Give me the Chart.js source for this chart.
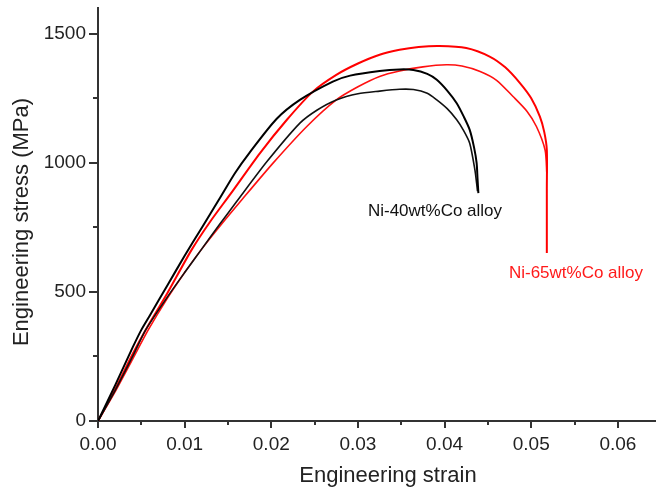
<!DOCTYPE html>
<html>
<head>
<meta charset="utf-8">
<script src="https://cdn.jsdelivr.net/npm/chart.js@4.4.1/dist/chart.umd.min.js"></script>
<style>
  html, body { margin: 0; padding: 0; background: #fff; }
  #wrap { width: 656px; height: 489px; }
</style>
</head>
<body>
<div id="wrap"><canvas id="grafico" width="656" height="489"></canvas></div>
<script>
// Ni-40wt%Co alloy, two samples (strain, MPa)
const strainB1 = [0, 0.002, 0.004, 0.005, 0.006, 0.008, 0.010, 0.012, 0.014, 0.0158, 0.0175, 0.0206, 0.0233, 0.0271, 0.0291, 0.0325, 0.0348, 0.0364, 0.038, 0.0391, 0.0403, 0.0414, 0.0422, 0.0429, 0.0434, 0.0437, 0.0438, 0.0439];
const stressB1 = [0, 140, 285, 353, 410, 525, 640, 750, 860, 960, 1040, 1170, 1244, 1315, 1338, 1356, 1362, 1360, 1345, 1322, 1280, 1231, 1180, 1128, 1060, 999, 940, 883];

const strainB2 = [0, 0.002, 0.004, 0.0055, 0.008, 0.010, 0.0119, 0.014, 0.016, 0.0195, 0.0233, 0.0253, 0.0275, 0.030, 0.0325, 0.0348, 0.0364, 0.038, 0.0391, 0.0403, 0.0414, 0.0422, 0.0429, 0.0435, 0.0437, 0.0438];
const stressB2 = [0, 120, 250, 353, 480, 575, 663, 760, 850, 1005, 1154, 1205, 1244, 1268, 1278, 1285, 1284, 1270, 1244, 1210, 1167, 1125, 1076, 973, 920, 890];

// Ni-65wt%Co alloy, two samples
const strainR1 = [0, 0.002, 0.004, 0.0055, 0.008, 0.0108, 0.013, 0.0153, 0.0187, 0.0218, 0.0248, 0.0275, 0.030, 0.0325, 0.0348, 0.037, 0.0394, 0.0425, 0.0452, 0.047, 0.0487, 0.050, 0.051, 0.0515, 0.0518, 0.0518, 0.0518, 0.0518];
const stressR1 = [0, 125, 260, 353, 495, 663, 775, 880, 1038, 1167, 1276, 1341, 1385, 1419, 1438, 1449, 1453, 1445, 1412, 1370, 1309, 1250, 1179, 1120, 1050, 900, 750, 651];

const strainR2 = [0, 0.002, 0.004, 0.0058, 0.008, 0.010, 0.0119, 0.0142, 0.0166, 0.0202, 0.0241, 0.0275, 0.030, 0.0325, 0.0348, 0.0375, 0.0402, 0.042, 0.0441, 0.046, 0.0479, 0.0495, 0.0506, 0.0516, 0.0518];
const stressR2 = [0, 115, 240, 353, 475, 575, 663, 760, 857, 999, 1141, 1244, 1295, 1335, 1356, 1372, 1380, 1375, 1354, 1320, 1257, 1200, 1141, 1050, 960];

const xTicks = [0, 0.01, 0.02, 0.03, 0.04, 0.05, 0.06];
const xMinor = [0.005, 0.015, 0.025, 0.035, 0.045, 0.055];
const yTicks = [0, 500, 1000, 1500];
const yMinor = [250, 750, 1250];

const fonte = "'Liberation Sans', Arial, sans-serif";

function pontos(xs, ys) {
  return xs.map((x, i) => ({ x: x, y: ys[i] }));
}

// marcas dos eixos, títulos e rótulos das curvas
const extras = {
  id: "extras",
  afterDraw(chart) {
    const ctx = chart.ctx;
    const sx = chart.scales.x;
    const sy = chart.scales.y;
    const area = chart.chartArea;
    ctx.save();
    ctx.strokeStyle = "#333";
    ctx.lineWidth = 2;
    ctx.beginPath();
    xTicks.forEach(v => { const p = Math.round(sx.getPixelForValue(v)); ctx.moveTo(p, area.bottom); ctx.lineTo(p, area.bottom + 7); });
    xMinor.forEach(v => { const p = Math.round(sx.getPixelForValue(v)); ctx.moveTo(p, area.bottom); ctx.lineTo(p, area.bottom + 4); });
    yTicks.forEach(v => { const p = Math.round(sy.getPixelForValue(v)); ctx.moveTo(area.left, p); ctx.lineTo(area.left - 9, p); });
    yMinor.forEach(v => { const p = Math.round(sy.getPixelForValue(v)); ctx.moveTo(area.left, p); ctx.lineTo(area.left - 5, p); });
    ctx.stroke();

    ctx.fillStyle = "#222";
    ctx.font = "22px " + fonte;
    ctx.textAlign = "center";
    ctx.textBaseline = "middle";
    ctx.fillText("Engineering strain", 388, 476);
    ctx.save();
    ctx.translate(22, 222);
    ctx.rotate(-Math.PI / 2);
    ctx.fillText("Engineering stress (MPa)", 0, 0);
    ctx.restore();

    ctx.font = "17px " + fonte;
    ctx.fillStyle = "#111";
    ctx.fillText("Ni-40wt%Co alloy", 435, 211);
    ctx.fillStyle = "#ff1a1a";
    ctx.fillText("Ni-65wt%Co alloy", 576, 273);
    ctx.restore();
  }
};

const ctx = document.getElementById("grafico").getContext("2d");
new Chart(ctx, {
  type: "scatter",
  data: {
    datasets: [
      { data: pontos(strainB1, stressB1), borderColor: "#000", borderWidth: 2 },
      { data: pontos(strainB2, stressB2), borderColor: "#111", borderWidth: 1.6 },
      { data: pontos(strainR1, stressR1), borderColor: "#ff0000", borderWidth: 2 },
      { data: pontos(strainR2, stressR2), borderColor: "#ff1010", borderWidth: 1.6 }
    ]
  },
  options: {
    responsive: false,
    animation: false,
    showLine: true,
    elements: {
      point: { radius: 0 },
      line: { tension: 0.25, fill: false }
    },
    layout: { padding: { top: 8, right: 0, left: 0, bottom: 0 } },
    plugins: {
      legend: { display: false },
      tooltip: { enabled: false }
    },
    scales: {
      x: {
        type: "linear",
        min: 0,
        max: 0.0644,
        grid: { display: false },
        border: { display: true, color: "#333", width: 2 },
        afterBuildTicks: s => { s.ticks = xTicks.map(v => ({ value: v })); },
        afterFit: s => { s.height = 68; s.paddingLeft = 0; s.paddingRight = 0; },
        ticks: {
          padding: 4,
          color: "#222",
          font: { family: fonte, size: 19 },
          maxRotation: 0,
          callback: v => v.toFixed(2)
        }
      },
      y: {
        type: "linear",
        min: 0,
        max: 1600,
        grid: { display: false },
        border: { display: true, color: "#333", width: 2 },
        afterBuildTicks: s => { s.ticks = yTicks.map(v => ({ value: v })); },
        afterFit: s => { s.width = 98; s.paddingTop = 0; s.paddingBottom = 0; },
        ticks: {
          padding: 4,
          color: "#222",
          font: { family: fonte, size: 19 },
          callback: v => String(v)
        }
      }
    }
  },
  plugins: [extras]
});
</script>
</body>
</html>
